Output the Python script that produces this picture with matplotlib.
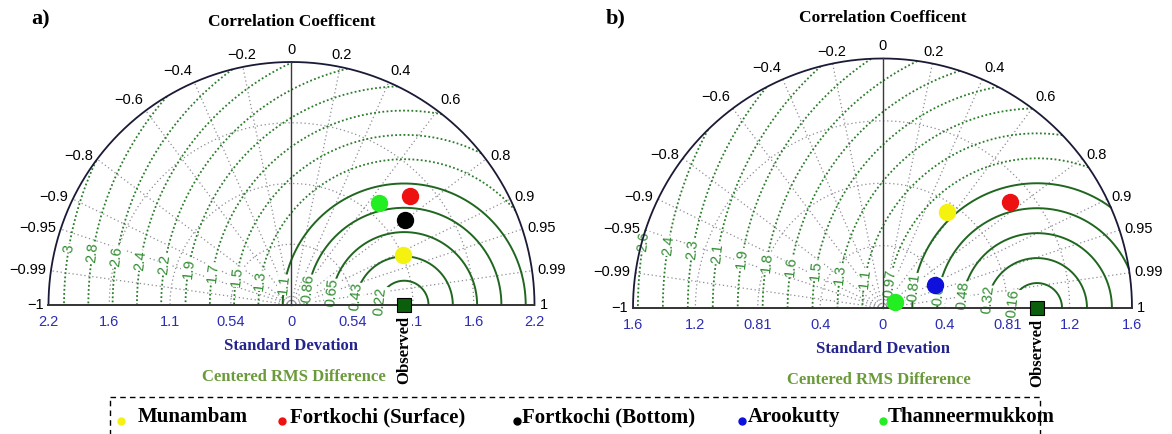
import numpy as np
import matplotlib
matplotlib.use("Agg")
import matplotlib.pyplot as plt
from matplotlib.patches import Rectangle

# ---------------------------------------------------------------- data
# panel a
std_max_a = 2.156
ref_std_a = 1.0
rms_step_a = 0.2156
std_ticklabels_a = ["0", "0.54", "1.1", "1.6", "2.2"]
rms_labels_a = ["0.22", "0.43", "0.65", "0.86", "1.1", "1.3", "1.5", "1.7",
                "1.9", "2.2", "2.4", "2.6", "2.8", "3"]
stations_a = ["Munambam", "Fortkochi (Surface)", "Fortkochi (Bottom)", "Thanneermukkom"]
std_a = [1.084, 1.430, 1.260, 1.190]
corr_a = [0.912, 0.735, 0.801, 0.652]

# panel b
std_max_b = 1.614
ref_std_b = 1.0
rms_step_b = 0.1614
std_ticklabels_b = ["0", "0.4", "0.81", "1.2", "1.6"]
rms_labels_b = ["0.16", "0.32", "0.48", "0.65", "0.81", "0.97", "1.1", "1.3",
                "1.5", "1.6", "1.8", "1.9", "2.1", "2.3", "2.4", "2.6"]
stations_b = ["Munambam", "Fortkochi (Surface)", "Arookutty", "Thanneermukkom"]
std_b = [0.749, 1.073, 0.373, 0.088]
corr_b = [0.554, 0.771, 0.917, 0.897]

corr_ticks = [-1, -0.99, -0.95, -0.9, -0.8, -0.6, -0.4, -0.2, 0,
              0.2, 0.4, 0.6, 0.8, 0.9, 0.95, 0.99, 1]
corr_ticklabels = ["\u22121", "\u22120.99", "\u22120.95", "\u22120.9", "\u22120.8",
                   "\u22120.6", "\u22120.4", "\u22120.2", "0", "0.2", "0.4", "0.6",
                   "0.8", "0.9", "0.95", "0.99", "1"]

legend_names = ["Munambam", "Fortkochi (Surface)", "Fortkochi (Bottom)",
                "Arookutty", "Thanneermukkom"]
station_colors = {"Munambam": "#f4f20e", "Fortkochi (Surface)": "#ee1111",
                  "Fortkochi (Bottom)": "#000000", "Arookutty": "#1010dd",
                  "Thanneermukkom": "#22ee22"}

# ---------------------------------------------------------------- style
W, H, DPI = 1172, 434, 100
SERIF = ["Liberation Serif", "DejaVu Serif"]
SANS = ["Liberation Sans", "DejaVu Sans"]
C_FRAME = "#1a1a36"
C_GRID = "#8c8c96"
C_RMS_SOLID = "#1f661f"
C_RMS_DOT = "#2a7d2a"
C_RMS_LAB = "#2e8b2e"
C_STD_TICK = "#2d2db3"
C_STD_LAB = "#24248f"
C_RMS_TITLE = "#6a9a3a"

fig = plt.figure(figsize=(W / DPI, H / DPI), dpi=DPI)
fig.patch.set_facecolor("white")


def panel_axes(ox, oy, s, L, B, T):
    """Axes whose data origin sits at pixel (ox, oy) with s pixels per unit."""
    left = (ox - L * s) / W
    bottom = (H - oy - B * s) / H
    ax = fig.add_axes([left, bottom, 2 * L * s / W, (B + T) * s / H])
    ax.set_xlim(-L, L)
    ax.set_ylim(-B, T)
    ax.set_axis_off()
    return ax


def draw_taylor(ax, s, smax, ref, rms_step, std_labels, rms_labels,
                stds, corrs, names, panel, rms_title_x):
    px = 1.0 / s  # one pixel in data units
    th = np.linspace(0, np.pi, 600)

    # standard deviation arcs
    for k in (1, 2, 3):
        r = smax * k / 4
        ax.plot(r * np.cos(th), r * np.sin(th), color=C_GRID, lw=0.9,
                ls=(0, (1, 2.2)), zorder=1)
    # correlation rays
    for c in corr_ticks:
        if c in (-1, 0, 1):
            continue
        a = np.arccos(c)
        ax.plot([0, smax * np.cos(a)], [0, smax * np.sin(a)], color=C_GRID,
                lw=0.9, ls=(0, (1, 2.2)), zorder=1)

    # centred RMS difference contours around the reference point
    phi = np.linspace(0, np.pi, 1500)
    lab_ang = np.deg2rad(170.4)
    for k, lab in enumerate(rms_labels, start=1):
        r = k * rms_step
        x = ref + r * np.cos(phi)
        y = r * np.sin(phi)
        out = x ** 2 + y ** 2 > smax ** 2
        x = np.where(out, np.nan, x)
        y = np.where(out, np.nan, y)
        if k <= 5:
            ax.plot(x, y, color=C_RMS_SOLID, lw=1.4, zorder=2)
        else:
            ax.plot(x, y, color=C_RMS_DOT, lw=1.3, ls=(0, (1, 1.3)), zorder=2)
        ax.text(ref + r * np.cos(lab_ang), r * np.sin(lab_ang), lab,
                rotation=84, rotation_mode="anchor", ha="center", va="center",
                color=C_RMS_LAB, fontsize=10.5, family=SANS, zorder=3,
                bbox=dict(facecolor="white", edgecolor="none", pad=0.2))

    # frame: outer semicircle, baseline and zero-correlation axis
    ax.plot(smax * np.cos(th), smax * np.sin(th), color=C_FRAME, lw=1.3, zorder=4)
    ax.plot([-smax, smax], [0, 0], color="#333333", lw=1.4, zorder=4)
    ax.plot([0, 0], [0, smax], color="#3a3a3a", lw=1.0, zorder=4)

    # correlation tick labels
    for c, lab in zip(corr_ticks, corr_ticklabels):
        a = np.arccos(c)
        ca, sa = np.cos(a), np.sin(a)
        rr = smax + 5 * px
        if ca > 0.25:
            ha = "left"
        elif ca < -0.25:
            ha = "right"
        else:
            ha = "center"
        va = "bottom" if sa > 0.75 else "center"
        ax.text(rr * ca, rr * sa, lab, ha=ha, va=va, fontsize=10.5,
                family=SANS, color="black")

    # standard deviation tick labels on both sides
    for k, lab in enumerate(std_labels):
        xs = [0.0] if k == 0 else [-smax * k / 4, smax * k / 4]
        for xv in xs:
            ax.text(xv, -17 * px, lab, ha="center", va="center", fontsize=10.5,
                    family=SANS, color=C_STD_TICK)

    # stations
    for sd, cc, nm in zip(stds, corrs, names):
        a = np.arccos(cc)
        ax.plot(sd * np.cos(a), sd * np.sin(a), "o", ms=11.5,
                color=station_colors[nm], mec=station_colors[nm], zorder=6)

    # reference point
    ax.plot(ref, 0, "s", ms=10, color="#0b5e0b", mec="black", mew=0.8, zorder=7)
    ax.text(ref, -11 * px, "Observed", rotation=90, ha="center", va="top",
            fontsize=12, family=SERIF, fontweight="bold", color="black", zorder=7,
            bbox=dict(facecolor="white", edgecolor="none", pad=0.0))

    # titles
    ax.text(0, smax + 40 * px, "Correlation Coefficent", ha="center",
            va="center", fontsize=12.5, family=SERIF, fontweight="bold")
    ax.text(0, -41 * px, "Standard Devation", ha="center", va="center",
            fontsize=12, family=SERIF, fontweight="bold", color=C_STD_LAB)
    ax.text(rms_title_x, -72 * px, "Centered RMS Difference", ha="center",
            va="center", fontsize=12, family=SERIF, fontweight="bold",
            color=C_RMS_TITLE)
    ax.text(panel[1], panel[2], panel[0], ha="left", va="center", fontsize=16,
            family=SERIF, fontweight="bold")


s_a = 243 / std_max_a
ax_a = panel_axes(291.5, 305, s_a, 2.5, 1.1, 2.7)
draw_taylor(ax_a, s_a, std_max_a, ref_std_a, rms_step_a, std_ticklabels_a,
            rms_labels_a, std_a, corr_a, stations_a,
            ("a)", -260 / s_a, 286 / s_a), 2 / s_a)

s_b = 249.5 / std_max_b
ax_b = panel_axes(882.5, 308, s_b, 1.85, 0.8, 1.98)
draw_taylor(ax_b, s_b, std_max_b, ref_std_b, rms_step_b, std_ticklabels_b,
            rms_labels_b, std_b, corr_b, stations_b,
            ("b)", -277 / s_b, 290 / s_b), -4 / s_b)

# ---------------------------------------------------------------- legend strip
lax = fig.add_axes([0, 0, 1, 1], zorder=-1)
lax.set_xlim(0, W)
lax.set_ylim(H, 0)
lax.set_axis_off()
lax.add_patch(Rectangle((110, 397), 930, 60, fill=False, ls=(0, (4, 3)),
                        lw=1.0, ec="black", clip_on=False))
marker_x = [121, 282, 517, 742, 883]
text_x = [138, 290, 522, 748, 888]
for nm, mx, tx in zip(legend_names, marker_x, text_x):
    lax.plot(mx, 421, "o", ms=5, color=station_colors[nm], mec=station_colors[nm])
    lax.text(tx, 417, nm, ha="left", va="center", fontsize=15, family=SERIF,
             fontweight="bold", color="black")

fig.savefig("out.png", dpi=DPI, facecolor="white")
